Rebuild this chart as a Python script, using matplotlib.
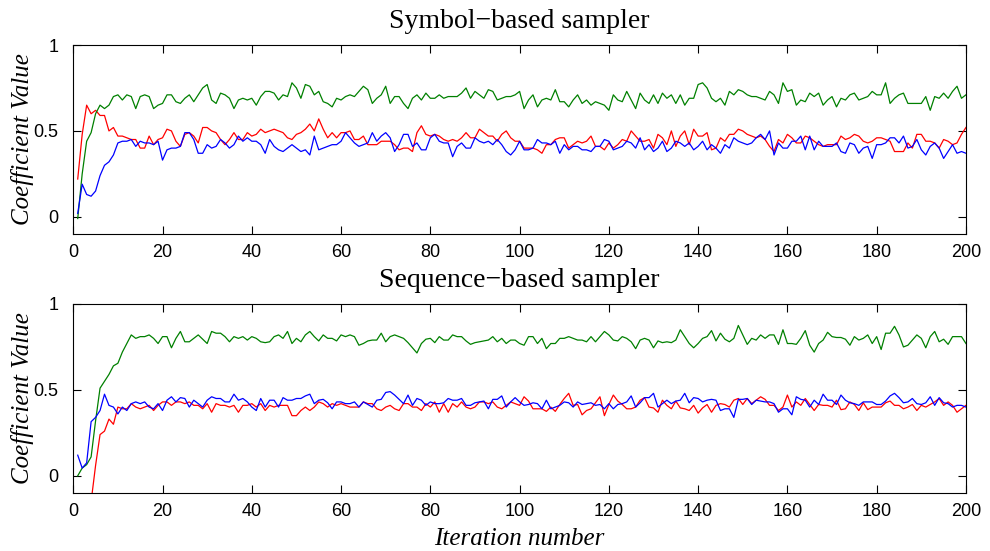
import numpy as np
import matplotlib
matplotlib.use('Agg')
import matplotlib.pyplot as plt

iterations = np.arange(1, 201)

# Symbol-based sampler (top panel)
sym_green = [
    -0.01, 0.25, 0.44, 0.49, 0.60, 0.65, 0.63, 0.65, 0.70, 0.71,
    0.68, 0.71, 0.70, 0.63, 0.70, 0.71, 0.70, 0.63, 0.65, 0.66,
    0.71, 0.71, 0.67, 0.66, 0.69, 0.71, 0.67, 0.71, 0.75, 0.77,
    0.68, 0.66, 0.72, 0.71, 0.69, 0.63, 0.68, 0.69, 0.68, 0.69,
    0.65, 0.70, 0.73, 0.73, 0.72, 0.68, 0.71, 0.70, 0.78, 0.75,
    0.69, 0.77, 0.76, 0.71, 0.73, 0.67, 0.66, 0.64, 0.69, 0.68,
    0.70, 0.71, 0.70, 0.73, 0.76, 0.74, 0.66, 0.69, 0.71, 0.76,
    0.66, 0.70, 0.70, 0.66, 0.63, 0.69, 0.71, 0.68, 0.72, 0.69,
    0.69, 0.71, 0.69, 0.70, 0.70, 0.70, 0.72, 0.75, 0.69, 0.73,
    0.71, 0.69, 0.74, 0.73, 0.68, 0.69, 0.70, 0.70, 0.71, 0.73,
    0.63, 0.68, 0.71, 0.64, 0.68, 0.69, 0.68, 0.74, 0.67, 0.67,
    0.64, 0.68, 0.71, 0.66, 0.68, 0.65, 0.67, 0.66, 0.65, 0.62,
    0.71, 0.68, 0.67, 0.73, 0.68, 0.63, 0.72, 0.68, 0.66, 0.71,
    0.66, 0.72, 0.69, 0.71, 0.66, 0.71, 0.65, 0.69, 0.69, 0.77,
    0.78, 0.75, 0.69, 0.67, 0.69, 0.65, 0.73, 0.71, 0.74, 0.73,
    0.71, 0.70, 0.70, 0.69, 0.68, 0.73, 0.71, 0.66, 0.78, 0.73,
    0.74, 0.65, 0.68, 0.67, 0.72, 0.70, 0.72, 0.65, 0.68, 0.70,
    0.64, 0.69, 0.68, 0.71, 0.72, 0.68, 0.69, 0.70, 0.73, 0.71,
    0.71, 0.78, 0.66, 0.69, 0.71, 0.72, 0.66, 0.66, 0.66, 0.66,
    0.70, 0.62, 0.70, 0.69, 0.72, 0.69, 0.73, 0.76, 0.69, 0.71,
]
sym_red = [
    0.22, 0.48, 0.65, 0.60, 0.62, 0.59, 0.59, 0.50, 0.52, 0.47,
    0.47, 0.46, 0.45, 0.45, 0.40, 0.40, 0.47, 0.42, 0.45, 0.46,
    0.51, 0.50, 0.44, 0.41, 0.48, 0.49, 0.47, 0.43, 0.52, 0.52,
    0.50, 0.49, 0.45, 0.42, 0.45, 0.49, 0.45, 0.45, 0.49, 0.47,
    0.48, 0.51, 0.49, 0.50, 0.51, 0.50, 0.49, 0.46, 0.45, 0.48,
    0.49, 0.51, 0.54, 0.50, 0.57, 0.51, 0.46, 0.49, 0.46, 0.49,
    0.49, 0.50, 0.45, 0.45, 0.47, 0.42, 0.42, 0.42, 0.44, 0.44,
    0.44, 0.42, 0.39, 0.40, 0.40, 0.38, 0.49, 0.53, 0.48, 0.47,
    0.48, 0.47, 0.45, 0.44, 0.45, 0.44, 0.46, 0.49, 0.46, 0.46,
    0.51, 0.49, 0.47, 0.47, 0.44, 0.48, 0.50, 0.46, 0.44, 0.44,
    0.40, 0.40, 0.40, 0.39, 0.37, 0.42, 0.42, 0.45, 0.46, 0.46,
    0.40, 0.42, 0.44, 0.43, 0.44, 0.47, 0.41, 0.41, 0.39, 0.43,
    0.40, 0.42, 0.45, 0.44, 0.50, 0.47, 0.44, 0.44, 0.45, 0.40,
    0.48, 0.46, 0.42, 0.50, 0.41, 0.47, 0.50, 0.42, 0.51, 0.47,
    0.47, 0.49, 0.39, 0.40, 0.46, 0.44, 0.48, 0.48, 0.51, 0.50,
    0.48, 0.47, 0.46, 0.47, 0.45, 0.41, 0.38, 0.45, 0.43, 0.48,
    0.46, 0.43, 0.43, 0.47, 0.46, 0.44, 0.42, 0.41, 0.42, 0.42,
    0.42, 0.47, 0.45, 0.46, 0.48, 0.47, 0.44, 0.43, 0.44, 0.46,
    0.46, 0.45, 0.44, 0.38, 0.38, 0.38, 0.43, 0.40, 0.48, 0.48,
    0.44, 0.44, 0.43, 0.40, 0.45, 0.44, 0.42, 0.43, 0.48, 0.52,
]
sym_blue = [
    0.02, 0.19, 0.13, 0.12, 0.15, 0.24, 0.30, 0.32, 0.36, 0.43,
    0.44, 0.44, 0.45, 0.41, 0.44, 0.43, 0.43, 0.42, 0.44, 0.33,
    0.39, 0.40, 0.40, 0.41, 0.49, 0.49, 0.45, 0.37, 0.37, 0.42,
    0.40, 0.41, 0.45, 0.43, 0.40, 0.42, 0.47, 0.44, 0.46, 0.44,
    0.44, 0.42, 0.37, 0.45, 0.41, 0.39, 0.38, 0.40, 0.42, 0.40,
    0.38, 0.39, 0.36, 0.47, 0.39, 0.40, 0.41, 0.42, 0.42, 0.44,
    0.49, 0.46, 0.43, 0.41, 0.42, 0.43, 0.49, 0.44, 0.47, 0.49,
    0.46, 0.38, 0.42, 0.48, 0.48, 0.41, 0.43, 0.39, 0.39, 0.46,
    0.48, 0.44, 0.43, 0.43, 0.35, 0.41, 0.43, 0.40, 0.40, 0.46,
    0.44, 0.43, 0.44, 0.42, 0.45, 0.42, 0.38, 0.36, 0.39, 0.44,
    0.39, 0.39, 0.40, 0.45, 0.43, 0.43, 0.42, 0.44, 0.37, 0.42,
    0.39, 0.41, 0.41, 0.39, 0.39, 0.38, 0.41, 0.41, 0.45, 0.44,
    0.39, 0.40, 0.41, 0.44, 0.43, 0.40, 0.46, 0.39, 0.42, 0.38,
    0.40, 0.44, 0.38, 0.40, 0.44, 0.43, 0.41, 0.43, 0.39, 0.41,
    0.44, 0.39, 0.42, 0.40, 0.37, 0.42, 0.40, 0.46, 0.44, 0.43,
    0.42, 0.43, 0.46, 0.48, 0.45, 0.50, 0.36, 0.43, 0.40, 0.40,
    0.44, 0.44, 0.47, 0.39, 0.47, 0.39, 0.44, 0.41, 0.41, 0.41,
    0.43, 0.38, 0.37, 0.43, 0.42, 0.37, 0.40, 0.41, 0.34, 0.42,
    0.42, 0.43, 0.46, 0.46, 0.43, 0.47, 0.40, 0.41, 0.45, 0.39,
    0.36, 0.41, 0.43, 0.40, 0.34, 0.38, 0.42, 0.37, 0.38, 0.37,
]

# Sequence-based sampler (bottom panel)
seq_green = [
    0.00, 0.045, 0.065, 0.11, 0.32, 0.51, 0.55, 0.59, 0.64, 0.655,
    0.72, 0.77, 0.82, 0.80, 0.81, 0.81, 0.82, 0.80, 0.77, 0.81,
    0.81, 0.745, 0.80, 0.84, 0.78, 0.78, 0.80, 0.82, 0.795, 0.77,
    0.84, 0.83, 0.83, 0.81, 0.78, 0.81, 0.80, 0.81, 0.79, 0.81,
    0.80, 0.78, 0.775, 0.78, 0.81, 0.82, 0.80, 0.84, 0.77, 0.80,
    0.78, 0.82, 0.84, 0.81, 0.785, 0.82, 0.80, 0.80, 0.785, 0.82,
    0.81, 0.82, 0.81, 0.76, 0.77, 0.785, 0.79, 0.79, 0.83, 0.78,
    0.81, 0.82, 0.81, 0.80, 0.775, 0.745, 0.715, 0.77, 0.795, 0.80,
    0.775, 0.81, 0.79, 0.79, 0.82, 0.81, 0.81, 0.785, 0.765, 0.775,
    0.78, 0.785, 0.79, 0.81, 0.78, 0.80, 0.77, 0.79, 0.79, 0.77,
    0.76, 0.81, 0.81, 0.77, 0.80, 0.74, 0.77, 0.77, 0.80, 0.80,
    0.81, 0.80, 0.79, 0.79, 0.78, 0.81, 0.78, 0.81, 0.84, 0.82,
    0.79, 0.785, 0.81, 0.80, 0.78, 0.74, 0.79, 0.80, 0.79, 0.745,
    0.785, 0.775, 0.78, 0.775, 0.79, 0.85, 0.81, 0.77, 0.745, 0.77,
    0.80, 0.81, 0.845, 0.785, 0.83, 0.795, 0.78, 0.80, 0.875, 0.82,
    0.765, 0.80, 0.79, 0.82, 0.80, 0.82, 0.82, 0.765, 0.85, 0.77,
    0.77, 0.765, 0.80, 0.845, 0.76, 0.72, 0.77, 0.79, 0.835, 0.81,
    0.805, 0.805, 0.795, 0.76, 0.81, 0.79, 0.80, 0.82, 0.77, 0.81,
    0.735, 0.83, 0.83, 0.87, 0.82, 0.75, 0.76, 0.79, 0.82, 0.80,
    0.745, 0.81, 0.84, 0.78, 0.795, 0.765, 0.81, 0.81, 0.81, 0.77,
]
seq_red = [
    -0.60, -0.45, -0.30, -0.15, 0.06, 0.24, 0.26, 0.33, 0.30, 0.40,
    0.39, 0.39, 0.42, 0.40, 0.39, 0.40, 0.41, 0.38, 0.41, 0.43,
    0.43, 0.41, 0.43, 0.43, 0.42, 0.43, 0.41, 0.41, 0.39, 0.42,
    0.37, 0.42, 0.41, 0.41, 0.40, 0.41, 0.37, 0.41, 0.41, 0.42,
    0.40, 0.42, 0.38, 0.41, 0.40, 0.41, 0.41, 0.41, 0.35, 0.35,
    0.38, 0.40, 0.38, 0.40, 0.43, 0.42, 0.40, 0.42, 0.41, 0.42,
    0.41, 0.40, 0.40, 0.40, 0.43, 0.42, 0.42, 0.39, 0.38, 0.40,
    0.41, 0.39, 0.38, 0.42, 0.42, 0.40, 0.40, 0.38, 0.42, 0.40,
    0.43, 0.37, 0.42, 0.37, 0.42, 0.40, 0.43, 0.40, 0.39, 0.40,
    0.43, 0.43, 0.42, 0.43, 0.40, 0.39, 0.41, 0.43, 0.42, 0.41,
    0.46, 0.435, 0.39, 0.39, 0.39, 0.375, 0.40, 0.375, 0.415, 0.45,
    0.48, 0.41, 0.415, 0.355, 0.38, 0.39, 0.425, 0.46, 0.35, 0.415,
    0.47, 0.435, 0.415, 0.39, 0.39, 0.40, 0.44, 0.455, 0.40, 0.395,
    0.37, 0.44, 0.41, 0.39, 0.435, 0.395, 0.39, 0.38, 0.41, 0.365,
    0.395, 0.415, 0.37, 0.41, 0.42, 0.415, 0.40, 0.44, 0.45, 0.415,
    0.45, 0.42, 0.44, 0.46, 0.445, 0.41, 0.41, 0.38, 0.40, 0.47,
    0.40, 0.43, 0.41, 0.45, 0.415, 0.38, 0.415, 0.41, 0.41, 0.40,
    0.44, 0.385, 0.39, 0.43, 0.415, 0.38, 0.425, 0.385, 0.40, 0.40,
    0.40, 0.425, 0.435, 0.41, 0.41, 0.39, 0.40, 0.415, 0.38, 0.41,
    0.40, 0.415, 0.43, 0.45, 0.41, 0.43, 0.41, 0.37, 0.39, 0.41,
]
seq_blue = [
    0.12, 0.045, 0.075, 0.315, 0.34, 0.38, 0.475, 0.41, 0.40, 0.36,
    0.40, 0.38, 0.42, 0.43, 0.42, 0.43, 0.40, 0.39, 0.42, 0.38,
    0.44, 0.46, 0.43, 0.455, 0.45, 0.40, 0.44, 0.42, 0.40, 0.44,
    0.46, 0.45, 0.45, 0.43, 0.43, 0.475, 0.44, 0.45, 0.43, 0.40,
    0.38, 0.45, 0.40, 0.44, 0.44, 0.40, 0.455, 0.44, 0.44, 0.45,
    0.45, 0.465, 0.475, 0.42, 0.44, 0.445, 0.425, 0.39, 0.43, 0.43,
    0.42, 0.42, 0.43, 0.40, 0.43, 0.415, 0.40, 0.44, 0.445, 0.485,
    0.49, 0.47, 0.445, 0.42, 0.47, 0.41, 0.45, 0.44, 0.41, 0.43,
    0.42, 0.42, 0.425, 0.45, 0.44, 0.44, 0.45, 0.41, 0.41, 0.425,
    0.43, 0.435, 0.39, 0.445, 0.445, 0.465, 0.40, 0.43, 0.455, 0.43,
    0.41, 0.415, 0.425, 0.42, 0.39, 0.44, 0.39, 0.40, 0.41, 0.43,
    0.425, 0.40, 0.43, 0.415, 0.42, 0.425, 0.41, 0.415, 0.39, 0.42,
    0.39, 0.415, 0.42, 0.43, 0.465, 0.40, 0.425, 0.455, 0.455, 0.48,
    0.40, 0.42, 0.44, 0.42, 0.435, 0.44, 0.48, 0.425, 0.455, 0.45,
    0.43, 0.44, 0.445, 0.44, 0.38, 0.39, 0.39, 0.34, 0.445, 0.445,
    0.45, 0.415, 0.44, 0.435, 0.43, 0.43, 0.42, 0.37, 0.39, 0.39,
    0.355, 0.46, 0.445, 0.44, 0.40, 0.44, 0.415, 0.475, 0.44, 0.44,
    0.415, 0.47, 0.44, 0.425, 0.42, 0.41, 0.43, 0.43, 0.43, 0.415,
    0.415, 0.435, 0.465, 0.48, 0.455, 0.425, 0.43, 0.45, 0.42, 0.415,
    0.425, 0.46, 0.41, 0.455, 0.425, 0.42, 0.40, 0.41, 0.41, 0.40,
]

xticks = list(range(0, 201, 20))
yticks = [0, 0.5, 1]
ytick_labels = ['0', '0.5', '1']

serif = 'Liberation Serif'
sans = 'Liberation Sans'
dark_green = (0, 0.5, 0)

fig = plt.figure(figsize=(9.9, 5.51), dpi=100)
ax1 = fig.add_axes([0.074, 0.5753, 0.9017, 0.343])
ax2 = fig.add_axes([0.074, 0.1053, 0.9017, 0.343])

panels = [
    (ax1, 'Symbol\u2212based sampler', sym_red, sym_green, sym_blue),
    (ax2, 'Sequence\u2212based sampler', seq_red, seq_green, seq_blue),
]

for ax, title, red, green, blue in panels:
    ax.plot(iterations, red, color='red', linewidth=0.9)
    ax.plot(iterations, green, color=dark_green, linewidth=0.9)
    ax.plot(iterations, blue, color='blue', linewidth=0.9)

    ax.set_xlim(0, 200)
    ax.set_ylim(-0.1, 1)
    ax.set_xticks(xticks)
    ax.set_yticks(yticks)
    ax.set_yticklabels(ytick_labels)
    ax.tick_params(direction='in', top=True, right=True, length=6, width=0.8,
                   labelsize=13)
    ax.tick_params(axis='x', pad=7)
    ax.tick_params(axis='y', pad=10.5)
    for lbl in ax.get_xticklabels() + ax.get_yticklabels():
        lbl.set_family(sans)
    for spine in ax.spines.values():
        spine.set_linewidth(0.8)

    ax.set_title(title, family=serif, fontsize=20, pad=12)
    ax.set_ylabel('Coefficient Value', family=serif, style='italic',
                  fontsize=18, labelpad=0)

ax2.set_xlabel('Iteration number', family=serif, style='italic',
               fontsize=18, labelpad=6)

fig.savefig('out.png', dpi=100)
